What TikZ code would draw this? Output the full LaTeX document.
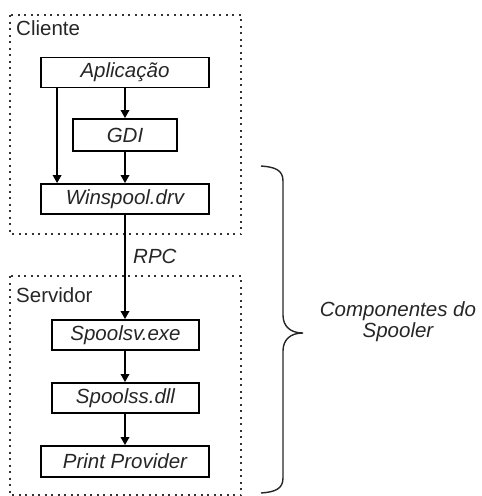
\documentclass[tikz,border=0pt]{standalone}
\usepackage{fontspec}
\setmainfont{Liberation Sans}
\usetikzlibrary{arrows.meta}
\begin{document}
\begin{tikzpicture}[x=1pt,y=-1pt,
  font=\fontsize{20.5}{21}\selectfont,
  every node/.style={text=black!85},
  comp/.style={draw=black, line width=1.8pt, minimum height=30pt, inner sep=0pt, font=\fontsize{20.5}{21}\selectfont\itshape},
  group/.style={draw=black!80, line width=1.6pt, dash pattern=on 2pt off 4.5pt},
  arr/.style={line width=1.7pt, -{Triangle[length=8pt,width=8.5pt]}},
  grplabel/.style={anchor=base west, inner sep=0pt}]
\useasboundingbox (0,0) rectangle (482,496);

% grouping boxes
\draw[group] (10,15) rectangle (241,234);
\draw[group] (10,276) rectangle (241,495);
\node[grplabel] (cli) at (16,35) {Cliente};
\node[grplabel] (srv) at (16,302) {Servidor};

% client side
\node[comp, minimum width=168pt] (apl) at (125,72.5) {Aplicação};
\node[comp, minimum width=104pt, minimum height=32pt] (gdi) at (125,135) {GDI};
\node[comp, minimum width=168pt] (win) at (125,199) {Winspool.drv};

% server side
\node[comp, minimum width=147pt] (sv) at (125.5,335) {Spoolsv.exe};
\node[comp, minimum width=147pt] (ss) at (125.5,398) {Spoolss.dll};
\node[comp, minimum width=168pt, minimum height=31pt] (pp) at (125,461.5) {Print Provider};

% connectors
\draw[arr] (apl.south -| gdi.north) -- (gdi.north);
\draw[arr] (gdi.south) -- (gdi.south |- win.north);
\draw[arr] ([xshift=17pt]apl.south west) -- ([xshift=17pt]win.north west);
\draw[arr] (win.south -| gdi.south) -- (sv.north -| gdi.south);
\draw[arr] (sv.south -| gdi.south) -- (ss.north -| gdi.south);
\draw[arr] (ss.south -| gdi.south) -- (pp.north -| gdi.south);
\node[anchor=base west, inner sep=0pt, font=\fontsize{20.5}{21}\selectfont\itshape] (rpc) at (133,263) {RPC};

% brace around the spooler components
\coordinate (bt) at (261,166);
\coordinate (bm) at (303,333);
\coordinate (bb) at (261,493);
\draw[line width=1.4pt, black!85]
  (bt) .. controls (275,167) and (283,170) .. (283,181)
  -- (283,315) .. controls (283,326) and (290,333) .. (bm)
  .. controls (290,333) and (283,340) .. (283,351)
  -- (283,478) .. controls (283,489) and (275,492) .. (bb);
\node[align=center, font=\fontsize{20.5}{21}\selectfont\itshape, anchor=base] (lbl) at (398,337) {Componentes do\\Spooler};
\end{tikzpicture}
\end{document}
